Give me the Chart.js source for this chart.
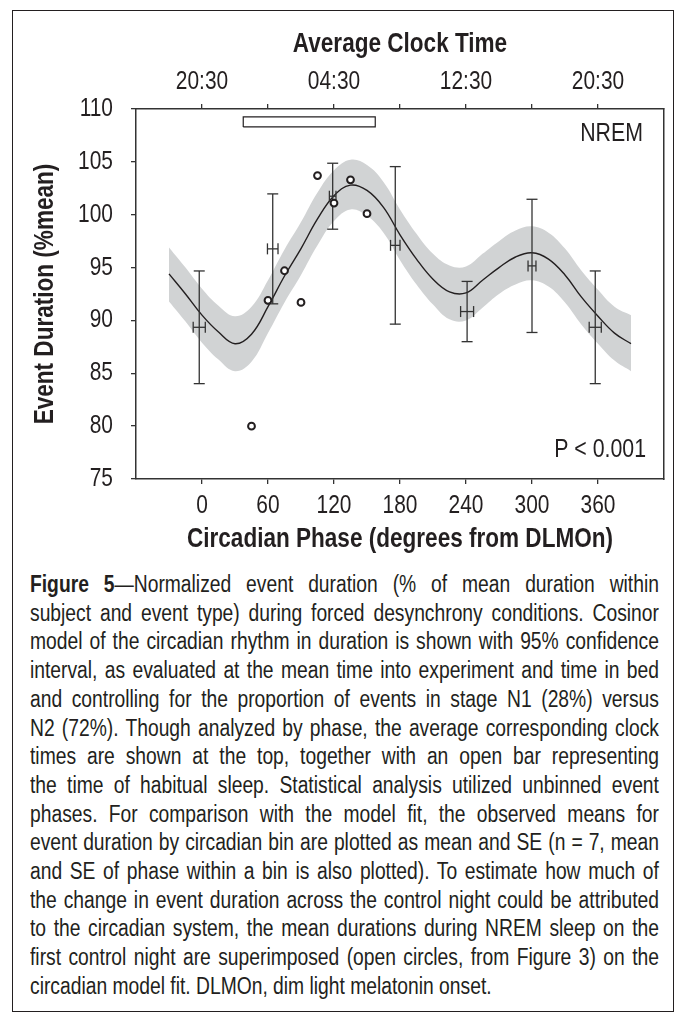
<!DOCTYPE html>
<html>
<head>
<meta charset="utf-8">
<script src="https://cdn.jsdelivr.net/npm/chart.js@4.4.1/dist/chart.umd.min.js"></script>
<style>
  html, body { margin: 0; padding: 0; background: #fff; }
  body { width: 687px; height: 1028px; position: relative; overflow: hidden; }
  #frame { position: absolute; left: 12px; top: 10px; width: 662px; height: 1002px; border: 1px solid #231f20; box-sizing: border-box; }
  #chart { position: absolute; left: 0; top: 0; }
  #caption { position: absolute; left: 30px; top: 570px; width: 767px;
    transform: scaleX(0.82); transform-origin: 0 0;
    font-family: 'Liberation Sans', Arial, sans-serif;
    font-size: 23.5px; line-height: 28.7px; color: #231f20; }
  #caption div { text-align: justify; text-align-last: justify; white-space: normal; }
  #caption div.last { text-align: left; text-align-last: left; }
</style>
</head>
<body>
<div id="frame"></div>
<canvas id="chart" width="687" height="560"></canvas>
<div id="caption">
  <div><b>Figure 5</b>—Normalized event duration (% of mean duration within</div>
  <div>subject and event type) during forced desynchrony conditions. Cosinor</div>
  <div>model of the circadian rhythm in duration is shown with 95% confidence</div>
  <div>interval, as evaluated at the mean time into experiment and time in bed</div>
  <div>and controlling for the proportion of events in stage N1 (28%) versus</div>
  <div>N2 (72%). Though analyzed by phase, the average corresponding clock</div>
  <div>times are shown at the top, together with an open bar representing</div>
  <div>the time of habitual sleep. Statistical analysis utilized unbinned event</div>
  <div>phases. For comparison with the model fit, the observed means for</div>
  <div>event duration by circadian bin are plotted as mean and SE (n = 7, mean</div>
  <div>and SE of phase within a bin is also plotted). To estimate how much of</div>
  <div>the change in event duration across the control night could be attributed</div>
  <div>to the circadian system, the mean durations during NREM sleep on the</div>
  <div>first control night are superimposed (open circles, from Figure 3) on the</div>
  <div class="last">circadian model fit. DLMOn, dim light melatonin onset.</div>
</div>
<script>
// ---- data ----
const phaseTicks = [0, 60, 120, 180, 240, 300, 360];
const clockLabels = ['20:30', '', '04:30', '', '12:30', '', '20:30'];
const durationTicks = [75, 80, 85, 90, 95, 100, 105, 110];

const fitPhase = [-30, -15, 0, 15, 30, 45, 60, 75, 90, 105, 120, 135, 150, 165, 180, 195, 210, 225, 240, 255, 270, 285, 300, 315, 330, 345, 360, 375, 390];
const fitMean  = [94.4, 92.5, 90.5, 88.9, 87.8, 88.7, 91.3, 94.2, 96.8, 99.6, 101.8, 102.8, 102.3, 100.7, 98.1, 95.8, 93.9, 92.7, 92.6, 93.8, 95.0, 96.0, 96.4, 95.8, 94.3, 92.2, 90.4, 88.8, 87.8];
const fitUpper = [96.9, 95.0, 93.0, 91.4, 90.4, 91.3, 93.8, 96.7, 99.3, 102.1, 104.2, 105.2, 104.7, 103.1, 100.5, 98.2, 96.3, 95.2, 95.1, 96.3, 97.5, 98.5, 98.9, 98.3, 96.8, 94.7, 92.9, 91.3, 90.5];
const fitLower = [91.8, 89.9, 87.9, 86.3, 85.2, 86.1, 88.8, 91.7, 94.3, 97.1, 99.4, 100.5, 99.9, 98.3, 95.7, 93.4, 91.5, 90.1, 90.0, 91.2, 92.5, 93.4, 93.8, 93.2, 91.7, 89.6, 87.8, 86.2, 85.2];

const binPhase   = [-2.5, 64.3, 118.8, 175.7, 241.0, 300.0, 357.5];
const binPhaseSE = [5.5, 4.8, 3.0, 4.3, 5.9, 3.6, 5.5];
const binMean    = [89.35, 96.77, 101.75, 97.1, 90.84, 95.16, 89.35];
const binSE      = [5.33, 5.2, 3.12, 7.45, 2.85, 6.3, 5.33];

const nightPhase    = [45, 60, 75, 90, 105, 120, 135, 150];
const nightDuration = [80.0, 91.9, 94.7, 91.7, 103.7, 101.1, 103.3, 100.1];

const sleepPhase = [37.5, 157.5];
const sleepLevel = [108.3, 109.25];

// ---- styling ----
const FAM = "'Liberation Sans', Arial, sans-serif";
const NARROW = 0.82;
const INK = '#231f20';
const AXIS = '#333333';
const BAND = '#d1d3d4';

// condensed lettering (Arial Narrow look) for all canvas text
const canvas = document.getElementById('chart');
const ctx2d = canvas.getContext('2d');
const origFillText = ctx2d.fillText.bind(ctx2d);
ctx2d.fillText = function (t, x, y, mw) {
  this.save();
  this.translate(x, y);
  this.scale(NARROW, 1);
  if (mw !== undefined && mw !== null) origFillText(t, 0, 0, mw / NARROW); else origFillText(t, 0, 0);
  this.restore();
};

const zip = (xs, ys) => xs.map((x, i) => ({ x: x, y: ys[i] }));

const datasets = [];
// confidence band
datasets.push({ type: 'line', data: zip(fitPhase, fitUpper), borderWidth: 0, pointRadius: 0, fill: false, order: 20, tension: 0.4 });
datasets.push({ type: 'line', data: zip(fitPhase, fitLower), borderWidth: 0, pointRadius: 0, fill: '-1', backgroundColor: BAND, order: 20, tension: 0.4 });
// model fit
datasets.push({ type: 'line', data: zip(fitPhase, fitMean), borderColor: INK, borderWidth: 1.4, pointRadius: 0, fill: false, order: 10, tension: 0.4 });
// binned means: vertical SE, horizontal SE
binPhase.forEach((bx, i) => {
  datasets.push({ type: 'line', data: [{ x: bx, y: binMean[i] - binSE[i] }, { x: bx, y: binMean[i] + binSE[i] }],
    borderColor: AXIS, borderWidth: 1.3, pointRadius: 0, fill: false, order: 5 });
  datasets.push({ type: 'line', data: [{ x: bx - binPhaseSE[i], y: binMean[i] }, { x: bx + binPhaseSE[i], y: binMean[i] }],
    borderColor: AXIS, borderWidth: 1.3, pointRadius: 0, fill: false, order: 5 });
});
// caps
const vCaps = [];
binPhase.forEach((bx, i) => { vCaps.push({ x: bx, y: binMean[i] - binSE[i] }); vCaps.push({ x: bx, y: binMean[i] + binSE[i] }); });
const hCaps = [];
binPhase.forEach((bx, i) => { hCaps.push({ x: bx - binPhaseSE[i], y: binMean[i] }); hCaps.push({ x: bx + binPhaseSE[i], y: binMean[i] }); });
datasets.push({ type: 'scatter', data: vCaps, pointStyle: 'line', pointRadius: 5.5, borderColor: AXIS, borderWidth: 1.3, order: 4 });
datasets.push({ type: 'scatter', data: hCaps, pointStyle: 'line', pointRotation: 90, pointRadius: 5.5, borderColor: AXIS, borderWidth: 1.3, order: 4 });
// habitual sleep open bar
datasets.push({ type: 'line', data: [
    { x: sleepPhase[0], y: sleepLevel[0] }, { x: sleepPhase[1], y: sleepLevel[0] },
    { x: sleepPhase[1], y: sleepLevel[1] }, { x: sleepPhase[0], y: sleepLevel[1] },
    { x: sleepPhase[0], y: sleepLevel[0] }],
  borderColor: INK, borderWidth: 1.2, pointRadius: 0, fill: false, tension: 0, order: 3 });
// control night circles
datasets.push({ type: 'scatter', data: zip(nightPhase, nightDuration), pointStyle: 'circle', pointRadius: 3.4,
  borderWidth: 2, borderColor: INK, backgroundColor: '#ffffff', order: 1 });

const annotations = {
  id: 'annotations',
  afterDatasetsDraw(chart) {
    const ctx = chart.ctx, a = chart.chartArea;
    ctx.save();
    ctx.font = '26px ' + FAM;
    ctx.fillStyle = INK;
    ctx.textAlign = 'right';
    ctx.textBaseline = 'middle';
    ctx.fillText('NREM', a.right - 21, a.top + 25);
    ctx.fillText('P < 0.001', a.right - 18, a.bottom - 29);
    ctx.restore();
  }
};

const tickFont = { family: FAM, size: 25.5 };
const titleFont = { family: FAM, size: 27.5, weight: 'bold' };

new Chart(canvas, {
  data: { datasets: datasets },
  plugins: [annotations],
  options: {
    responsive: false,
    animation: false,
    events: [],
    layout: { padding: { left: 0, right: 23, top: 0, bottom: 0 } },
    plugins: { legend: { display: false }, tooltip: { enabled: false } },
    scales: {
      x: {
        type: 'linear', position: 'bottom', min: -60, max: 420,
        afterBuildTicks: s => { s.ticks = phaseTicks.map(v => ({ value: v })); },
        afterFit: s => { s.height = 81; },
        ticks: { color: INK, font: tickFont, padding: 7, maxRotation: 0, autoSkip: false, callback: v => String(v) },
        grid: { drawOnChartArea: false, drawTicks: true, tickLength: 5, color: AXIS, lineWidth: 1.3 },
        border: { display: true, color: AXIS, width: 1.5 },
        title: { display: true, text: 'Circadian Phase (degrees from DLMOn)', color: INK, font: titleFont, padding: { top: 0, bottom: 4 } }
      },
      x2: {
        type: 'linear', position: 'top', min: -60, max: 420,
        afterBuildTicks: s => { s.ticks = phaseTicks.map(v => ({ value: v })); },
        afterFit: s => { s.height = 109; },
        ticks: { color: INK, font: tickFont, padding: 7, maxRotation: 0, autoSkip: false,
          callback: v => { const i = phaseTicks.indexOf(v); return i >= 0 ? clockLabels[i] : ''; } },
        grid: { drawOnChartArea: false, drawTicks: true, tickLength: 5, color: AXIS, lineWidth: 1.3 },
        border: { display: true, color: AXIS, width: 1.5 },
        title: { display: true, text: 'Average Clock Time', color: INK, font: titleFont, padding: { top: 28, bottom: 0 } }
      },
      y: {
        type: 'linear', position: 'left', min: 75, max: 110,
        afterBuildTicks: s => { s.ticks = durationTicks.map(v => ({ value: v })); },
        afterFit: s => { s.width = 136; },
        ticks: { color: INK, font: tickFont, padding: 18, callback: v => String(v) },
        grid: { drawOnChartArea: false, drawTicks: true, tickLength: 5, color: AXIS, lineWidth: 1.3 },
        border: { display: true, color: AXIS, width: 1.5 },
        title: { display: true, text: 'Event Duration (%mean)', color: INK, font: titleFont, padding: { top: 29, bottom: 0 } }
      },
      y2: {
        type: 'linear', position: 'right', min: 75, max: 110,
        afterFit: s => { s.width = 0; },
        ticks: { display: false },
        grid: { display: false },
        border: { display: true, color: AXIS, width: 1.5 }
      }
    }
  }
});
</script>
</body>
</html>
